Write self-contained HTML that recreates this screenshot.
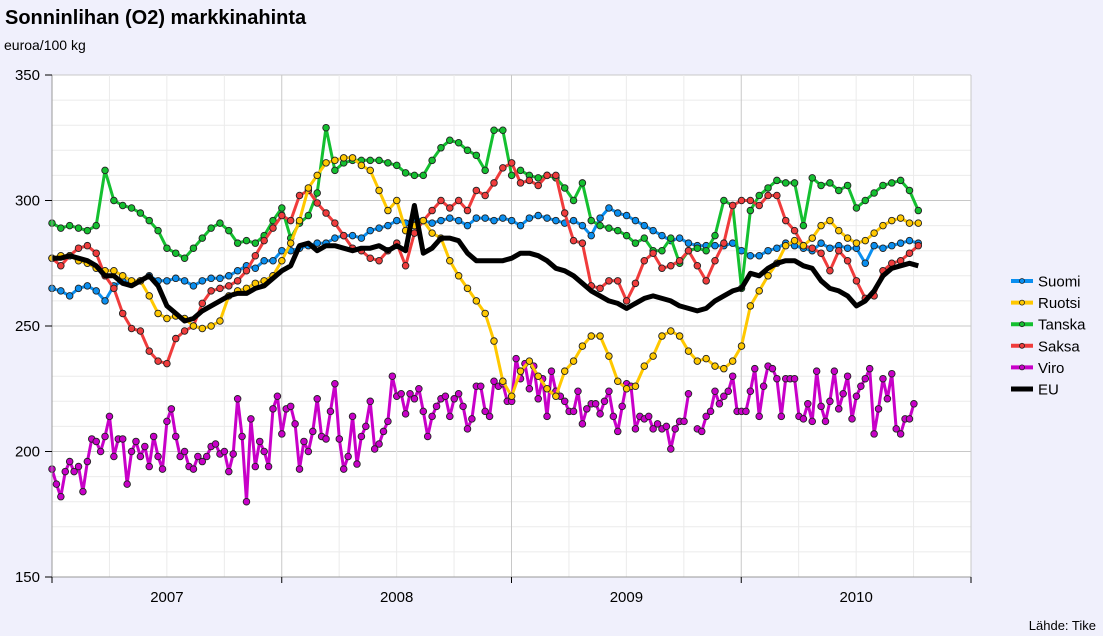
<!DOCTYPE html>
<html><head><meta charset="utf-8"><style>
body{margin:0;background:#f0f0fc;}
svg{display:block;font-family:"Liberation Sans",Arial,sans-serif;}
</style></head><body>
<svg id="chart" width="1103" height="636" viewBox="0 0 1103 636" xmlns="http://www.w3.org/2000/svg">
<rect x="0" y="0" width="1103" height="636" fill="#f0f0fc"/>
<text x="5" y="24" font-size="20" font-weight="bold" fill="#000">Sonninlihan (O2) markkinahinta</text>
<text x="4" y="50" font-size="14" fill="#000">euroa/100 kg</text>
<rect x="52" y="75" width="919" height="502" fill="#fff"/>
<g id="grid"></g>
<g id="series"></g>
<g id="axes"></g>
<g id="legend"></g>
<text x="1096" y="630" font-size="13" text-anchor="end">Lähde: Tike</text>
</svg>
<script>
const yTicks=[150,200,250,300,350];
const years=["2007","2008","2009","2010"];
const seriesNames=["Suomi","Ruotsi","Tanska","Saksa","Viro","EU"];
const suomi=[265,264,262,265,266,264,260,266,268,267,268,270,268,268,269,268,266,268,269,269,270,272,274,273,276,276,280,280,281,282,283,283,285,286,286,285,288,289,290,292,291,293,292,291,292,293,292,290,293,293,292,293,292,290,293,294,293,292,291,292,290,286,293,297,295,294,292,290,288,286,284,285,283,282,282,282,282,283,280,278,278,280,281,283,282,281,280,283,281,282,281,281,275,282,281,282,283,284,283];
const ruotsi=[277,278,278,276,275,273,272,272,270,268,268,262,255,253,254,253,250,249,250,252,262,264,265,267,268,270,276,283,292,305,310,315,316,317,317,314,312,304,296,300,288,290,292,287,285,276,270,265,260,255,244,228,222,232,236,230,225,222,232,236,242,246,246,238,228,225,226,234,238,246,248,246,240,236,237,234,233,236,242,258,264,270,275,282,284,282,285,290,292,288,285,283,284,287,290,292,293,291,291];
const tanska=[291,289,290,289,288,290,312,300,298,297,295,292,288,281,279,277,281,285,289,291,288,283,284,283,286,292,297,285,291,294,303,329,312,315,316,316,316,316,315,314,311,310,310,316,321,324,323,320,318,312,328,328,310,312,310,309,310,309,305,300,307,292,290,289,288,286,283,285,280,280,285,275,280,281,280,286,300,298,265,296,302,305,308,307,307,290,309,306,307,304,306,297,300,303,306,307,308,304,296];
const saksa=[277,274,278,281,282,279,270,265,255,249,248,240,236,235,245,248,250,259,264,265,266,268,272,278,284,289,294,292,302,304,299,295,291,286,281,280,277,276,280,283,274,287,292,296,300,297,300,296,304,302,307,313,315,307,308,306,310,310,295,284,283,266,265,268,268,260,267,276,279,273,274,276,280,274,268,276,283,298,300,300,298,302,302,292,288,282,281,279,272,280,276,268,261,262,272,275,276,279,282];
const eu=[277,277,278,277,276,274,270,270,267,266,268,270,266,258,255,252,253,256,258,260,262,263,263,265,266,269,272,274,282,283,280,282,282,281,280,281,281,282,280,282,280,298,279,281,285,285,284,279,276,276,276,276,277,279,279,278,276,273,272,270,267,264,262,260,259,257,259,261,262,261,260,258,257,256,257,260,262,264,265,271,270,273,275,276,276,274,273,268,265,264,262,258,260,264,270,273,274,275,274];
const viro=[193,187,182,192,196,192,194,184,196,205,204,200,206,214,198,205,205,187,200,204,198,202,194,206,198,193,212,217,206,198,200,194,193,198,196,198,202,203,199,200,192,199,221,206,180,213,194,204,200,194,217,222,207,217,
218,211,193,204,200,208,221,206,205,216,227,205,193,198,214,195,206,210,220,201,203,208,212,230,222,223,215,223,221,225,216,206,214,218,221,222,214,221,223,218,209,213,226,226,216,214,228,226,227,220,
220,237,229,235,225,234,221,229,214,232,224,222,220,216,216,224,211,217,219,219,215,220,224,214,208,218,227,226,209,214,213,214,209,211,209,210,201,209,212,212,223,null,209,208,214,216,224,219,222,224,230,
216,216,216,224,233,214,226,234,233,229,214,229,229,229,214,213,219,212,232,218,212,220,232,217,223,230,213,222,226,229,233,207,217,229,221,231,209,207,213,213,219];

const NS="http://www.w3.org/2000/svg";
const X0=52,X1=971,Y0=577,Y1=75;
const WEEK=4.42;
function yScale(v){return Y0-(v-150)*(Y0-Y1)/200;}
function xWeek(w){return X0+w*WEEK;}
function mk(tag,attrs,parent){const e=document.createElementNS(NS,tag);for(const k in attrs)e.setAttribute(k,attrs[k]);parent.appendChild(e);return e;}
const grid=document.getElementById('grid'),axes=document.getElementById('axes'),ser=document.getElementById('series'),leg=document.getElementById('legend');
for(let v=150;v<=350;v+=10){
  const major=v%50===0;
  const l=mk('line',{x1:X0,x2:X1,y1:yScale(v),y2:yScale(v),stroke:major?'#c8c8c8':'#ebebeb','stroke-width':1},grid);
  
  
}
const yearW=(X1-X0)/4;
for(let q=0;q<=16;q++){
  const x=X0+q*yearW/4, major=q%4===0;
  const l=mk('line',{x1:x,x2:x,y1:Y1,y2:Y0,stroke:major?'#c8c8c8':'#ebebeb','stroke-width':1},grid);
  
  
}
let a=mk('line',{x1:X0,x2:X0,y1:Y1,y2:Y0,stroke:'#999','stroke-width':1},axes);

a=mk('line',{x1:X0,x2:X1,y1:Y0,y2:Y0,stroke:'#999','stroke-width':1},axes);

yTicks.forEach(v=>{
  const t=mk('line',{x1:X0-7,x2:X0,y1:yScale(v),y2:yScale(v),stroke:'#000'},axes);
  
  
  const tx=mk('text',{x:X0-12,y:yScale(v)+5,'text-anchor':'end','font-size':15,fill:'#000'},axes);
  tx.textContent=v;
  
  
});
for(let i=0;i<=4;i++){
  const t=mk('line',{x1:X0+i*yearW,x2:X0+i*yearW,y1:Y0,y2:Y0+6,stroke:'#000'},axes);
  
  
}
years.forEach((yr,i)=>{
  const tx=mk('text',{x:X0+(i+0.5)*yearW,y:Y0+25,'text-anchor':'middle','font-size':15,fill:'#000'},axes);
  tx.textContent=yr;
  
  
});
function draw(vals,step,color,name,markers,width){
  const g=mk('g',{},ser);
  
  
  let d='',pen=false;
  vals.forEach((v,i)=>{ if(v===null){pen=false;return;} const x=xWeek(i*step),y=yScale(v); d+=(pen?'L':'M')+x.toFixed(1)+' '+y.toFixed(1); pen=true;});
  const p=mk('path',{d:d,fill:'none',stroke:color,'stroke-width':width,'stroke-linejoin':'round'},g);
  
  
  if(markers){vals.forEach((v,i)=>{ if(v===null)return;
    const c=mk('circle',{cx:xWeek(i*step),cy:yScale(v),r:3.3,fill:color,stroke:'#222','stroke-width':0.9},g);
    
    
  });}
}
const colors=["#0a8ff0","#ffc800","#14c030","#f03c3c","#c800c8","#000"];
draw(viro,1,colors[4],"Viro",true,3);
draw(suomi,2,colors[0],"Suomi",true,3);
draw(tanska,2,colors[2],"Tanska",true,3);
draw(saksa,2,colors[3],"Saksa",true,3);
draw(ruotsi,2,colors[1],"Ruotsi",true,3);
draw(eu,2,colors[5],"EU",false,5);
seriesNames.forEach((n,i)=>{
  const y=281+i*21.6;
  const g=mk('g',{},leg);
  
  
  mk('line',{x1:1011,x2:1033,y1:y,y2:y,stroke:colors[i],'stroke-width':i===5?5:4},g);
  if(i<5) mk('circle',{cx:1022,cy:y,r:2.5,fill:colors[i],stroke:'#222','stroke-width':0.8},g);
  const t=mk('text',{x:1038,y:y+5.5,'font-size':15,fill:'#000'},g);
  t.textContent=n;
});
</script>
</body></html>
